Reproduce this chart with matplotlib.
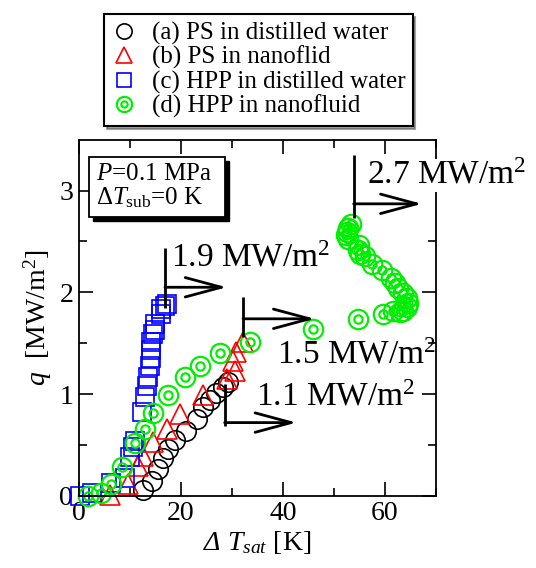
import numpy as np
import matplotlib
matplotlib.use('Agg')
import matplotlib.pyplot as plt
from matplotlib.lines import Line2D
from matplotlib.patches import Rectangle

plt.rcParams['font.family'] = ['Liberation Serif', 'DejaVu Serif']
plt.rcParams['mathtext.fontset'] = 'custom'
plt.rcParams['mathtext.rm'] = 'Liberation Serif'
plt.rcParams['mathtext.it'] = 'Liberation Serif:italic'

# (a) PS in distilled water
a_x = [12.6, 14.3, 15.5, 16.5, 17.5, 18.8, 21.1, 23.1, 24.4, 25.7, 27.0, 28.3, 29.3]
a_y = [0.06, 0.15, 0.26, 0.37, 0.46, 0.55, 0.64, 0.76, 0.87, 0.94, 1.01, 1.07, 1.12]
# (b) PS in nanofluid
b_x = [6.1, 9.7, 11.6, 12.6, 14.6, 17.2, 19.8, 24.4, 29.0, 30.6, 30.3, 30.9, 32.2]
b_y = [0.01, 0.12, 0.29, 0.39, 0.53, 0.66, 0.80, 0.99, 1.15, 1.23, 1.33, 1.41, 1.51]
# (c) HPP in distilled water
c_x = [0.2, 2.5, 6.4, 9.0, 10.0, 10.6, 11.0, 12.3, 12.9, 13.3, 13.6, 13.9, 14.2,
       14.2, 14.2, 14.6, 14.9, 14.9, 16.2, 16.2, 16.9, 17.2]
c_y = [0.0, 0.03, 0.13, 0.18, 0.38, 0.48, 0.54, 0.82, 0.97, 1.08, 1.17, 1.28, 1.35,
       1.43, 1.51, 1.59, 1.63, 1.69, 1.79, 1.84, 1.87, 1.89]
# (d) HPP in nanofluid
d_x = [1.8, 4.4, 6.3, 8.4, 11.0, 12.9, 14.6, 17.5, 20.8, 23.7, 27.6, 33.5, 45.9,
       54.8, 59.7, 61.6, 62.9, 63.6, 64.3, 64.6, 64.3, 63.6, 62.6, 62.0, 61.3, 59.4,
       57.4, 56.1, 55.1, 54.8, 55.0, 52.8, 52.4, 52.5, 52.8, 53.3]
d_y = [0.0, 0.03, 0.12, 0.28, 0.52, 0.66, 0.81, 0.99, 1.17, 1.28, 1.40, 1.51, 1.64,
       1.74, 1.79, 1.82, 1.81, 1.82, 1.86, 1.90, 1.94, 1.99, 2.04, 2.09, 2.14, 2.22,
       2.28, 2.36, 2.38, 2.42, 2.47, 2.52, 2.56, 2.59, 2.63, 2.67]

labels = ['(a) PS in distilled water', '(b) PS in nanoflid',
          '(c) HPP in distilled water', '(d) HPP in nanofluid']

# CHF annotations: label, corner x, top/bottom of vertical, arrow y, arrow end x, text pos
chf_labels = ['1.9', '1.5', '1.1', '2.7']
chf_x0 = [16.9, 32.2, 28.6, 53.9]
chf_top = [2.44, 1.95, 1.10, 3.35]
chf_bot = [1.85, 1.56, 0.69, 2.73]
chf_ay = [2.05, 1.74, 0.72, 2.87]
chf_x1 = [29.0, 46.3, 42.7, 67.3]
chf_tx = [18.0, 38.8, 34.7, 56.6]
chf_ty = [2.25, 1.30, 0.89, 3.07]

fig = plt.figure(figsize=(5.36, 5.68), dpi=100)
ax = fig.add_axes([0.147, 0.127, 0.666, 0.627])

lw = 1.2
green = '#00ee00'
ax.plot(a_x, a_y, 'o', ms=14, mfc='none', mec='black', mew=lw, clip_on=False)
ax.plot(b_x, b_y, '^', ms=14, mfc='none', mec='red', mew=lw, clip_on=False)
ax.plot(c_x, c_y, 's', ms=12.5, mfc='none', mec='blue', mew=lw, clip_on=False)
ax.plot(d_x, d_y, 'o', ms=14, mfc='none', mec=green, mew=lw * 1.3, clip_on=False)
ax.plot(d_x, d_y, 'o', ms=6, mfc='none', mec=green, mew=lw * 1.3, clip_on=False)

for lab, x0, top, bot, ay, x1, tx, ty in zip(chf_labels, chf_x0, chf_top, chf_bot,
                                             chf_ay, chf_x1, chf_tx, chf_ty):
    ax.plot([x0, x0], [top, bot], color='black', lw=2, solid_capstyle='butt')
    ax.annotate('', xy=(x1, ay), xytext=(x0, ay),
                arrowprops=dict(arrowstyle='->,head_length=2.6,head_width=0.7',
                                lw=2, color='black', shrinkA=0, shrinkB=0))
    bb = dict(facecolor='white', edgecolor='none', pad=1) if lab == '2.7' else None
    ax.text(tx, ty, lab + r' MW/m$^2$', fontsize=24, ha='left', va='baseline',
            bbox=bb, zorder=5, clip_on=False)

# inset condition box with shadow
bx0, by0, bw, bh = 0.028, 0.784, 0.381, 0.168
ax.add_patch(Rectangle((bx0 + 0.011, by0 - 0.011), bw, bh, transform=ax.transAxes,
                       facecolor='black', edgecolor='black', zorder=4))
ax.add_patch(Rectangle((bx0, by0), bw, bh, transform=ax.transAxes,
                       facecolor='white', edgecolor='black', lw=1.3, zorder=4.1))
ax.text(bx0 + 0.02, by0 + bh / 2, r'$P$=0.1 MPa' + '\n' + r'$\Delta T_{\rm sub}$=0 K',
        transform=ax.transAxes, fontsize=18, va='center', ha='left',
        linespacing=1.0, zorder=4.2)

ax.set_xlim(0, 70)
ax.set_ylim(0, 3.5)
ax.set_xticks([0, 20, 40, 60])
ax.set_xticks([10, 30, 50, 70], minor=True)
ax.set_yticks([0, 1, 2, 3])
ax.set_yticks([0.5, 1.5, 2.5], minor=True)
ax.tick_params(which='both', direction='in', top=True, right=True, labelsize=20,
               width=1.2)
ax.tick_params(which='major', length=10, pad=4)
ax.tick_params(which='minor', length=6)
for s in ax.spines.values():
    s.set_linewidth(1.3)

ax.set_xlabel(r'Δ $T_{sat}$ $\mathrm{[K]}$', fontsize=20, style='italic', labelpad=2)
ax.set_ylabel(r'$q$  [MW/m$^2$]', fontsize=20, labelpad=4)

handles = [
    Line2D([], [], ls='none', marker='o', ms=11, mfc='none', mec='black', mew=lw),
    Line2D([], [], ls='none', marker='^', ms=11, mfc='none', mec='red', mew=lw),
    Line2D([], [], ls='none', marker='s', ms=10, mfc='none', mec='blue', mew=lw),
    (Line2D([], [], ls='none', marker='o', ms=11, mfc='none', mec=green, mew=lw * 1.3),
     Line2D([], [], ls='none', marker='o', ms=4.5, mfc='none', mec=green, mew=lw * 1.3)),
]
leg = fig.legend(handles, labels, loc='upper center', bbox_to_anchor=(0.482, 0.975),
                 fontsize=18, frameon=True, fancybox=False, shadow=True,
                 edgecolor='black', handlelength=1.0, handletextpad=0.6,
                 labelspacing=0.05, borderpad=0.3, borderaxespad=0)
leg.get_frame().set_linewidth(1.5)

fig.savefig('out.png', dpi=100)
